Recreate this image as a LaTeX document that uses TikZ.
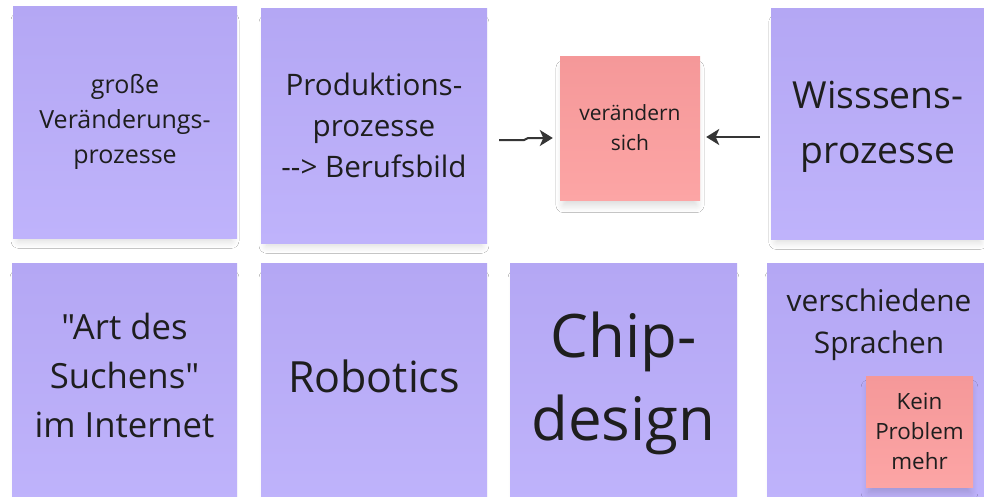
\documentclass[tikz,border=0pt]{standalone}
\usepackage{fontspec}
\setmainfont{Open Sans}[Ligatures=TeXOff]
\usetikzlibrary{shadows.blur,arrows.meta}
\definecolor{purpTop}{RGB}{180,167,244}
\definecolor{purpBot}{RGB}{191,179,251}
\definecolor{redTop}{RGB}{245,152,153}
\definecolor{redBot}{RGB}{252,165,165}
\definecolor{ink}{RGB}{30,30,30}
\tikzset{
 note/.style={inner sep=0pt, top color=purpTop, bottom color=purpBot, draw=none, align=center, text=ink,
   blur shadow={shadow xshift=0pt, shadow yshift=-9pt, shadow scale=0.95, shadow blur steps=10, shadow opacity=16, shadow blur radius=8pt}},
 rnote/.style={note, top color=redTop, bottom color=redBot},
 arr/.style={draw=ink!90, line width=2pt, -{Stealth[length=13pt,width=16pt,inset=3.5pt]}},
 txt/.style={inner sep=0pt, align=center, text=ink}
}
\newcommand{\fs}[2]{\fontsize{#1}{#2}\selectfont}
\begin{document}
\begin{tikzpicture}[x=1pt,y=-1pt]
\useasboundingbox[fill=white] (0,0) rectangle (984,496);
\clip (0,0) rectangle (984,496);
% row 1
\node[note, minimum width=224pt, minimum height=232pt, font=\fs{25}{35}] (n1) at (125,122) {große\\Veränderungs-\\prozesse};
\node[note, minimum width=226pt, minimum height=235pt, font=\fs{29.6}{41}] (n2) at (374,125.5) {Produktions-\\prozesse\\--> Berufsbild};
\node[rnote, minimum width=140pt, minimum height=144pt, font=\fs{21}{30}] (r1) at (630,128) {verändern\\sich};
\node[note, minimum width=214pt, minimum height=231pt] (n4) at (878,123.5) {};
\node[txt, font=\fs{37.3}{55}] (n4t) at (878,126.5) {Wisssens-\\prozesse};
% row 2
\node[note, minimum width=225pt, minimum height=240pt] (m1) at (124.5,383) {};
\node[txt, font=\fs{34.7}{49}] (m1t) at (124.5,375) {"Art des\\Suchens"\\im Internet};
\node[note, minimum width=226pt, minimum height=240pt] (m2) at (374,383) {};
\node[txt, font=\fs{43}{58}] (m2t) at (374,376) {Robotics};
\node[note, minimum width=227pt, minimum height=240pt] (m3) at (623.5,383) {};
\node[txt, font=\fs{60}{83}] (m3t) at (623.5,383) {Chip-\\design};
\node[note, minimum width=224pt, minimum height=240pt] (m4) at (879,383) {};
\node[txt, font=\fs{29.8}{42}] (m4t) at (879,325) {verschiedene\\Sprachen};
\node[rnote, minimum width=107pt, minimum height=111pt, font=\fs{22.4}{30}] (r2) at (919.5,431.5) {Kein\\Problem\\mehr};
% arrows
\coordinate (la) at (499,140);
\coordinate (lk1) at (524,140);
\coordinate (lk2) at (528,138);
\draw[arr] (la) -- (lk1) -- (lk2) -- ([shift={(-7,10)}]r1.west);
\coordinate (ra) at (760,137);
\draw[arr] (ra) -- ([shift={(6,9)}]r1.east);
\end{tikzpicture}
\end{document}
